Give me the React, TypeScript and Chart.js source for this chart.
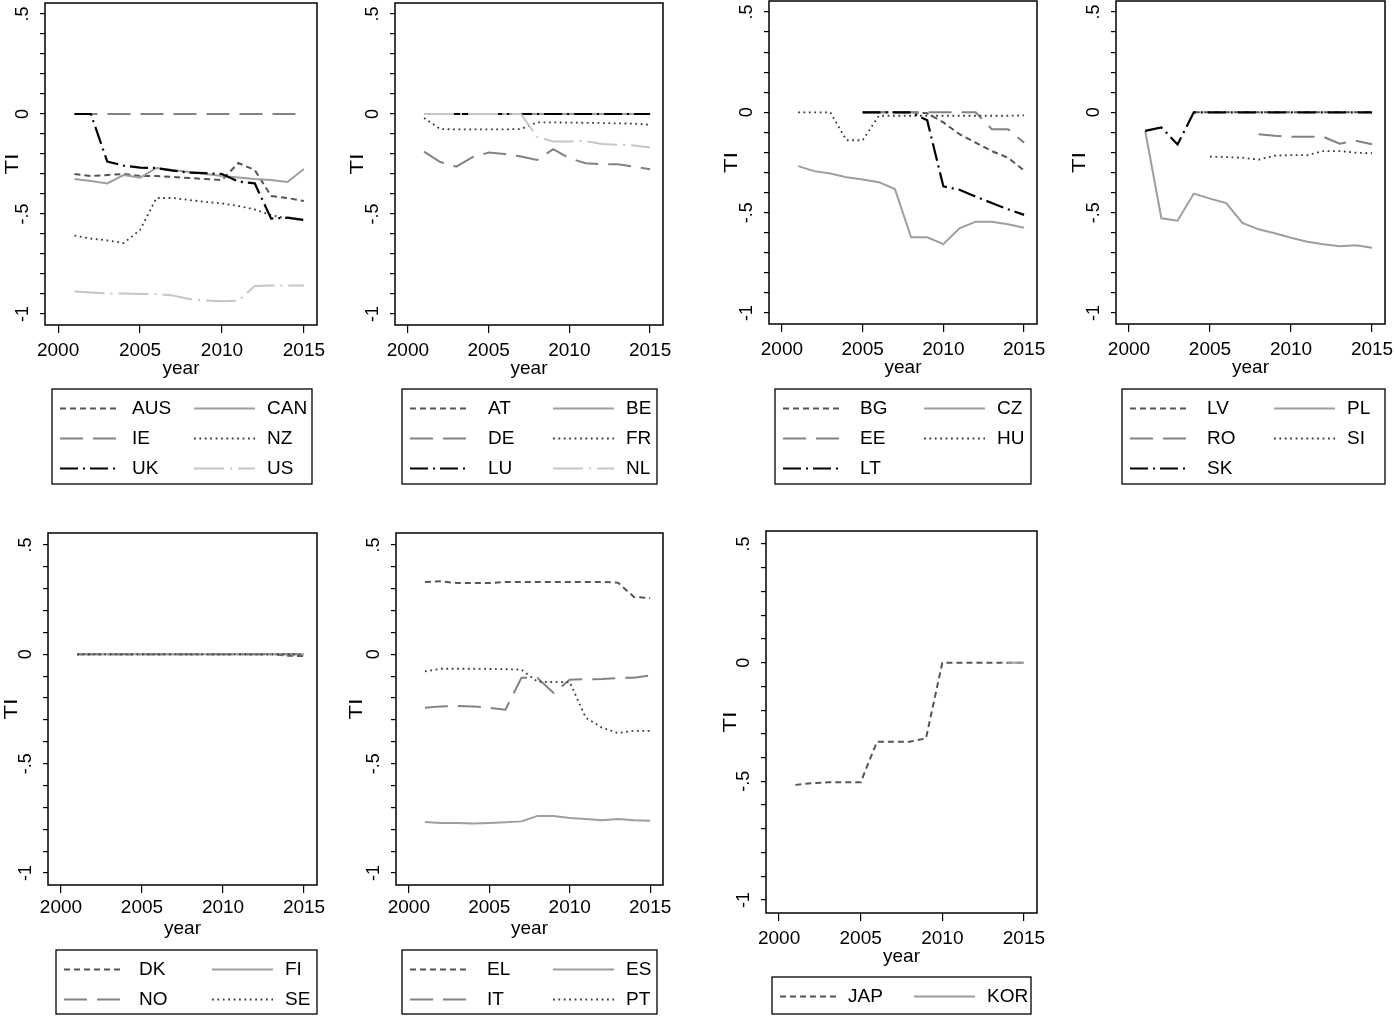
import { useEffect, useRef } from 'react';
import { Chart, registerables } from 'chart.js';

Chart.register(...registerables);

const FONT = '"Liberation Sans", Arial, Helvetica, sans-serif';

const years = [2001, 2002, 2003, 2004, 2005, 2006, 2007, 2008, 2009, 2010, 2011, 2012, 2013, 2014, 2015];
const xTickYears = [2000, 2005, 2010, 2015];
const yTickValues = [-1, -0.9, -0.8, -0.7, -0.6, -0.5, -0.4, -0.3, -0.2, -0.1, 0, 0.1, 0.2, 0.3, 0.4, 0.5];
const yLabelValues = [0.5, 0, -0.5, -1];
const yLabelTexts = ['.5', '0', '-.5', '-1'];

// panel 1
const AUS = [-0.3, -0.31, -0.305, -0.3, -0.31, -0.31, -0.315, -0.32, -0.325, -0.33, -0.245, -0.28, -0.41, -0.42, -0.435];
const CAN = [-0.325, -0.335, -0.347, -0.305, -0.318, -0.27, -0.28, -0.29, -0.3, -0.31, -0.318, -0.325, -0.33, -0.34, -0.275];
const IE = [0, 0, 0, 0, 0, 0, 0, 0, 0, 0, 0, 0, 0, 0, 0];
const NZ = [-0.608, -0.623, -0.632, -0.645, -0.58, -0.42, -0.42, -0.43, -0.44, -0.447, -0.46, -0.477, -0.506, -0.522, -0.53];
const UK = [0, 0, -0.238, -0.258, -0.268, -0.27, -0.283, -0.293, -0.296, -0.3, -0.338, -0.347, -0.523, -0.518, -0.53];
const US = [-0.888, -0.893, -0.897, -0.898, -0.9, -0.9, -0.908, -0.925, -0.933, -0.936, -0.933, -0.86, -0.857, -0.857, -0.858];

// panel 2
const AT = [0, 0, 0, 0, 0, 0, 0, 0, 0, 0, 0, 0, 0, 0, 0];
const BE = [0, 0, 0, 0, 0, 0, 0, 0, 0, 0, 0, 0, 0, 0, 0];
const DE = [-0.188, -0.24, -0.263, -0.216, -0.193, -0.2, -0.213, -0.23, -0.176, -0.221, -0.246, -0.251, -0.251, -0.263, -0.276];
const FR = [-0.02, -0.075, -0.077, -0.077, -0.077, -0.077, -0.075, -0.042, -0.042, -0.043, -0.044, -0.045, -0.047, -0.048, -0.054];
const LU = [0, 0, 0, 0, 0, 0, 0, 0, 0, 0, 0, 0, 0, 0, 0];
const NL = [0, 0, 0, 0, 0, 0, 0, -0.115, -0.137, -0.137, -0.135, -0.15, -0.154, -0.157, -0.167];

// panel 3
const BG = [null, null, null, null, 0, 0, 0, 0, -0.005, -0.05, -0.109, -0.151, -0.193, -0.226, -0.29];
const CZ = [-0.268, -0.293, -0.305, -0.323, -0.335, -0.348, -0.382, -0.623, -0.623, -0.657, -0.578, -0.545, -0.545, -0.558, -0.575];
const EE = [null, null, null, null, 0, 0, 0, 0, 0, 0, 0, 0, -0.084, -0.084, -0.151];
const HU = [0, 0, 0, -0.139, -0.139, -0.017, -0.017, -0.017, -0.017, -0.017, -0.017, -0.017, -0.017, -0.017, -0.015];
const LT = [null, null, null, null, 0, 0, 0, 0, -0.04, -0.369, -0.386, -0.42, -0.452, -0.483, -0.511];

// panel 4
const LV = [null, null, null, 0, 0, 0, 0, 0, 0, 0, 0, 0, 0, 0, 0];
const PL = [-0.092, -0.528, -0.54, -0.405, -0.43, -0.452, -0.551, -0.583, -0.603, -0.625, -0.645, -0.658, -0.667, -0.662, -0.675];
const RO = [null, null, null, null, null, null, null, -0.109, -0.117, -0.122, -0.122, -0.122, -0.156, -0.142, -0.159];
const SI = [null, null, null, null, -0.221, -0.223, -0.226, -0.236, -0.216, -0.213, -0.213, -0.193, -0.193, -0.201, -0.204];
const SK = [-0.092, -0.075, -0.16, 0, 0, 0, 0, 0, 0, 0, 0, 0, 0, 0, 0];

// panel 5
const DK = [0, 0, 0, 0, 0, 0, 0, 0, 0, 0, 0, 0, 0, -0.006, -0.008];
const FI = [0, 0, 0, 0, 0, 0, 0, 0, 0, 0, 0, 0, 0, 0, 0];
const NO = [0, 0, 0, 0, 0, 0, 0, 0, 0, 0, 0, 0, 0, 0, 0];
const SE = [0, 0, 0, 0, 0, 0, 0, 0, 0, 0, 0, 0, 0, 0, 0];

// panel 6
const EL = [0.331, 0.334, 0.326, 0.326, 0.326, 0.331, 0.331, 0.331, 0.331, 0.331, 0.331, 0.331, 0.328, 0.262, 0.258];
const ES = [-0.767, -0.771, -0.771, -0.774, -0.771, -0.768, -0.764, -0.739, -0.739, -0.748, -0.753, -0.759, -0.753, -0.759, -0.761];
const IT = [-0.244, -0.238, -0.236, -0.238, -0.245, -0.253, -0.107, -0.108, -0.177, -0.116, -0.114, -0.113, -0.108, -0.107, -0.096];
const PT = [-0.078, -0.066, -0.066, -0.066, -0.067, -0.068, -0.07, -0.125, -0.127, -0.127, -0.29, -0.335, -0.36, -0.35, -0.35];

// panel 7
const JAP = [-0.515, -0.508, -0.504, -0.504, -0.504, -0.333, -0.333, -0.333, -0.319, 0, 0, 0, 0, 0, 0];
const KOR = [null, null, null, null, null, null, null, null, null, null, null, null, null, 0, 0];

// stata s2mono-like line styles, in plotting order
const lineStyles = [
  { color: '#555555', width: 2, dash: [6, 4] },
  { color: '#9e9e9e', width: 2, dash: [] as number[] },
  { color: '#828282', width: 2, dash: [23, 10] },
  { color: '#3c3c3c', width: 1.8, dash: [1.8, 3.6] },
  { color: '#000000', width: 2.2, dash: [18, 5, 2, 5] },
  { color: '#c6c6c6', width: 2, dash: [30, 6, 2, 6] },
];

type PanelDef = {
  names: string[];
  series: (number | null)[][];
  frame: number[]; // plot region l, t, r, b (page px)
  legend: number[]; // legend box l, t, r, b (page px)
  cols: number[]; // legend text x of column 1 and 2 (page px)
  tiX: number;
  labPad: number;
};

const panels: PanelDef[] = [
  { names: ['AUS', 'CAN', 'IE', 'NZ', 'UK', 'US'], series: [AUS, CAN, IE, NZ, UK, US], frame: [45, 3, 317, 325], legend: [52, 389, 312, 484], cols: [132, 267], tiX: 13, labPad: 6 },
  { names: ['AT', 'BE', 'DE', 'FR', 'LU', 'NL'], series: [AT, BE, DE, FR, LU, NL], frame: [395, 3, 663, 325], legend: [402, 389, 657, 484], cols: [488, 626], tiX: 358, labPad: 6 },
  { names: ['BG', 'CZ', 'EE', 'HU', 'LT'], series: [BG, CZ, EE, HU, LT], frame: [769, 1, 1037, 324], legend: [775, 389, 1031, 484], cols: [860, 997], tiX: 732, labPad: 6 },
  { names: ['LV', 'PL', 'RO', 'SI', 'SK'], series: [LV, PL, RO, SI, SK], frame: [1116, 1, 1385, 324], legend: [1122, 389, 1385, 484], cols: [1207, 1347], tiX: 1080, labPad: 6 },
  { names: ['DK', 'FI', 'NO', 'SE'], series: [DK, FI, NO, SE], frame: [48, 533, 317, 885], legend: [56, 950, 317, 1014], cols: [139, 285], tiX: 12, labPad: 3 },
  { names: ['EL', 'ES', 'IT', 'PT'], series: [EL, ES, IT, PT], frame: [396, 533, 663, 885], legend: [402, 950, 657, 1014], cols: [487, 626], tiX: 357, labPad: 3 },
  { names: ['JAP', 'KOR'], series: [JAP, KOR], frame: [766, 531, 1037, 913], legend: [772, 977, 1031, 1014], cols: [848, 987], tiX: 731, labPad: 6 },
];

const AXIS_H = 55;

function Panel({ p }: { p: PanelDef }) {
  const ref = useRef<HTMLCanvasElement | null>(null);
  const [fl, ft, fr, fb] = p.frame;
  const left = Math.round(p.tiX - 11);
  const top = ft < 400 ? 0 : 520;
  const width = Math.max(fr, p.legend[2]) + 8 - left;
  const height = p.legend[3] + 3 - top;

  useEffect(() => {
    if (!ref.current) return;
    const ctx = ref.current.getContext('2d');
    if (!ctx) return;

    const decor = {
      id: 'decor',
      afterDraw(chart: any) {
        const c = chart.ctx as CanvasRenderingContext2D;
        const a = chart.chartArea;
        c.save();
        c.setLineDash([]);
        c.strokeStyle = '#000';
        c.lineWidth = 1.5;
        c.strokeRect(a.left, a.top, a.right - a.left, a.bottom - a.top);

        // rotated y labels
        c.fillStyle = '#000';
        c.textAlign = 'center';
        c.textBaseline = 'middle';
        c.font = `18px ${FONT}`;
        yLabelValues.forEach((v, i) => {
          const y = chart.scales.y.getPixelForValue(v);
          c.save();
          c.translate(a.left - 22, y);
          c.rotate(-Math.PI / 2);
          c.fillText(yLabelTexts[i], 0, 0);
          c.restore();
        });

        // y title, a bit stretched along its direction like the original
        c.font = `19px ${FONT}`;
        c.save();
        c.translate(p.tiX - left, (a.top + a.bottom) / 2);
        c.rotate(-Math.PI / 2);
        c.scale(1.25, 1);
        c.fillText('TI', 0, 0);
        c.restore();

        // legend box
        const bl = p.legend[0] - left;
        const bt = p.legend[1] - top;
        const br = p.legend[2] - left;
        const bb = p.legend[3] - top;
        c.lineWidth = 1.3;
        c.strokeRect(bl, bt, br - bl, bb - bt);
        c.textAlign = 'left';
        p.names.forEach((name, i) => {
          const st = lineStyles[i];
          const row = Math.floor(i / 2);
          const y = bt + 19.5 + row * 30;
          const tx = p.cols[i % 2] - left;
          let x1: number, x2: number;
          if (i % 2 === 0) {
            x1 = bl + 8;
            x2 = bl + 67;
          } else {
            x2 = tx - 12;
            x1 = x2 - 61;
          }
          c.save();
          c.strokeStyle = st.color;
          c.lineWidth = st.width;
          c.setLineDash(st.dash);
          c.beginPath();
          c.moveTo(x1, y);
          c.lineTo(x2, y);
          c.stroke();
          c.restore();
          c.fillStyle = '#000';
          c.fillText(name, tx, y);
        });
        c.restore();
      },
    };

    const chart = new Chart(ctx, {
      type: 'line',
      data: {
        datasets: p.series.map((vals, i) => ({
          label: p.names[i],
          data: years.map((x, j) => ({ x, y: vals[j] })),
          borderColor: lineStyles[i].color,
          borderWidth: lineStyles[i].width,
          borderDash: lineStyles[i].dash,
          borderCapStyle: 'butt',
          pointRadius: 0,
          tension: 0,
          fill: false,
          order: -i,
        })),
      } as any,
      options: {
        responsive: false,
        animation: false,
        layout: {
          padding: {
            left: 0,
            top: ft - top,
            right: width - (fr - left),
            bottom: height - (fb - top) - AXIS_H,
          },
        },
        plugins: { legend: { display: false }, tooltip: { enabled: false } },
        scales: {
          x: {
            type: 'linear',
            min: 1999.2,
            max: 2015.8,
            bounds: 'data',
            afterBuildTicks: (s: any) => {
              s.ticks = xTickYears.map((v) => ({ value: v }));
            },
            afterFit: (s: any) => {
              s.height = AXIS_H;
              s.paddingLeft = 0;
              s.paddingRight = 0;
            },
            grid: { display: true, drawOnChartArea: false, drawTicks: true, tickLength: 8, color: '#000', lineWidth: 1.2 },
            border: { display: false },
            ticks: {
              autoSkip: false,
              maxRotation: 0,
              padding: p.labPad,
              color: '#000',
              font: { family: FONT, size: 19 },
              callback: (v: any) => String(v),
            },
            title: { display: true, text: 'year', color: '#000', padding: 0, font: { family: FONT, size: 19 } },
          },
          y: {
            type: 'linear',
            min: -1.055,
            max: 0.555,
            bounds: 'data',
            afterBuildTicks: (s: any) => {
              s.ticks = yTickValues.map((v) => ({ value: v }));
            },
            afterFit: (s: any) => {
              s.width = fl - left;
              s.paddingTop = 0;
              s.paddingBottom = 0;
            },
            grid: { display: true, drawOnChartArea: false, drawTicks: true, tickLength: 5, color: '#000', lineWidth: 1.2 },
            border: { display: false },
            ticks: { display: false },
            title: { display: false },
          },
        },
      } as any,
      plugins: [decor],
    });
    return () => chart.destroy();
  }, []);

  return (
    <canvas
      ref={ref}
      width={width}
      height={height}
      style={{ position: 'absolute', left, top, width, height }}
    />
  );
}

export default function App() {
  return (
    <div style={{ position: 'absolute', left: 0, top: 0, width: 1394, height: 1016, background: '#fff', overflow: 'hidden' }}>
      {panels.map((p) => (
        <Panel key={p.names[0]} p={p} />
      ))}
    </div>
  );
}
